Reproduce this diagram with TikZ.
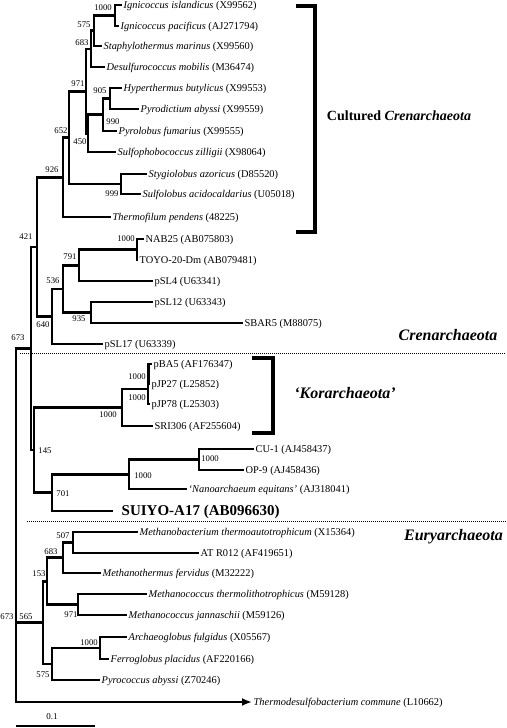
\documentclass[tikz,border=0pt]{standalone}
\usepackage{fontspec}
\setmainfont{Liberation Serif}
\usetikzlibrary{arrows.meta}
\begin{document}
\begin{tikzpicture}[x=1pt,y=-1pt,
  br/.style={line width=2.8pt},
  leaf/.style={anchor=west, inner xsep=1.5pt, inner ysep=0pt, font=\fontsize{10.4}{12}\selectfont, text height=7pt, text depth=0pt},
  bs/.style={inner sep=0pt, font=\fontsize{8.7}{10}\selectfont},
  grp/.style={inner sep=0pt, anchor=base, font=\fontsize{16}{18}\selectfont\bfseries\itshape},
  brk/.style={line width=3.8pt},
  sep/.style={line width=0.8pt, dash pattern=on 1pt off 1pt}]
\useasboundingbox (0,0) rectangle (506,728);
\fill[white] (0,0) rectangle (506,728);
% leaves
\node[leaf] (L1) at (122,5) {\textit{Ignicoccus islandicus} (X99562)};
\node[leaf] (L2) at (119,26) {\textit{Ignicoccus pacificus} (AJ271794)};
\node[leaf] (L3) at (102,46) {\textit{Staphylothermus marinus} (X99560)};
\node[leaf] (L4) at (105,67) {\textit{Desulfurococcus mobilis} (M36474)};
\node[leaf] (L5) at (122,88) {\textit{Hyperthermus butylicus} (X99553)};
\node[leaf] (L6) at (139,109) {\textit{Pyrodictium abyssi} (X99559)};
\node[leaf] (L7) at (117,131) {\textit{Pyrolobus fumarius} (X99555)};
\node[leaf] (L8) at (116,152) {\textit{Sulfophobococcus zilligii} (X98064)};
\node[leaf] (L9) at (147,174) {\textit{Stygiolobus azoricus} (D85520)};
\node[leaf] (L10) at (141,194) {\textit{Sulfolobus acidocaldarius} (U05018)};
\node[leaf] (L11) at (111,217) {\textit{Thermofilum pendens} (48225)};
\node[leaf] (L12) at (144,239) {NAB25 (AB075803)};
\node[leaf] (L13) at (138,260) {TOYO-20-Dm (AB079481)};
\node[leaf] (L14) at (153,281) {pSL4 (U63341)};
\node[leaf] (L15) at (153,302) {pSL12 (U63343)};
\node[leaf] (L16) at (243,323) {SBAR5 (M88075)};
\node[leaf] (L17) at (103,344) {pSL17 (U63339)};
\node[leaf] (L18) at (152,364) {pBA5 (AF176347)};
\node[leaf] (L19) at (150,384) {pJP27 (L25852)};
\node[leaf] (L20) at (150,404) {pJP78 (L25303)};
\node[leaf] (L21) at (153,426) {SRI306 (AF255604)};
\node[leaf] (L22) at (254,449) {CU-1 (AJ458437)};
\node[leaf] (L23) at (244,470) {OP-9 (AJ458436)};
\node[leaf] (L24) at (187,489) {{\itshape ‘Nanoarchaeum equitans’} (AJ318041)};
\node[leaf, inner xsep=8.5pt, font=\fontsize{15}{17}\selectfont\bfseries, text height=9pt] (L25) at (113,511) {SUIYO-A17 (AB096630)};
\node[leaf] (L26) at (138,532) {\textit{Methanobacterium thermoautotrophicum} (X15364)};
\node[leaf] (L27) at (199,553) {AT R012 (AF419651)};
\node[leaf] (L28) at (101,573) {\textit{Methanothermus fervidus} (M32222)};
\node[leaf] (L29) at (147,594) {\textit{Methanococcus thermolithotrophicus} (M59128)};
\node[leaf] (L30) at (127,615) {\textit{Methanococcus jannaschii} (M59126)};
\node[leaf] (L31) at (127,637) {\textit{Archaeoglobus fulgidus} (X05567)};
\node[leaf] (L32) at (109,659) {\textit{Ferroglobus placidus} (AF220166)};
\node[leaf] (L33) at (100,680) {\textit{Pyrococcus abyssi} (Z70246)};
\node[leaf] (L34) at (252,702) {\textit{Thermodesulfobacterium commune} (L10662)};
% internal nodes
\coordinate (n1) at (115,15.5);
\coordinate (n2) at (94,30.75);
\coordinate (n3) at (91,48.9);
\coordinate (n5) at (110,98.5);
\coordinate (n6) at (103,114.75);
\coordinate (n7) at (88,133.4);
\coordinate (n4) at (86,91.1);
\coordinate (n8) at (121,184);
\coordinate (n9) at (69,137.6);
\coordinate (n10) at (63,177.3);
\coordinate (n17) at (137,249.5);
\coordinate (n15) at (79,265.25);
\coordinate (n16) at (91,312.5);
\coordinate (n14) at (63,288.9);
\coordinate (n13) at (52,316.4);
\coordinate (n12) at (37,246.9);
\coordinate (n22) at (148.5,374);
\coordinate (n23) at (148,389);
\coordinate (n20) at (122,407.5);
\coordinate (n25) at (199,459.5);
\coordinate (n24) at (129,474.25);
\coordinate (n21) at (52,492.6);
\coordinate (n19) at (34,450);
\coordinate (n18) at (31,348.5);
\coordinate (n26) at (73,542.5);
\coordinate (n27) at (63,557.75);
\coordinate (n29) at (78,604.5);
\coordinate (n28) at (47,581.1);
\coordinate (n33) at (100,648);
\coordinate (n31) at (52,664);
\coordinate (n30) at (43,622.6);
\coordinate (nA) at (16,485.5);
% branches
\draw[br] (n1) |- (L1.west);  \draw[br] (n1) |- (L2.west);
\draw[br] (n2) |- (n1);       \draw[br] (n2) |- (L3.west);
\draw[br] (n3) |- (n2);       \draw[br] (n3) |- (L4.west);
\draw[br] (n5) |- (L5.west);  \draw[br] (n5) |- (L6.west);
\draw[br] (n6) |- (n5);       \draw[br] (n6) |- (L7.west);
\draw[br] (n7) |- (n6);       \draw[br] (n7) |- (L8.west);
\draw[br] (n4) |- (n3);       \draw[br] (n4) |- (n7);
\draw[br] (n8) |- (L9.west);  \draw[br] (n8) |- (L10.west);
\draw[br] (n9) |- (n4);       \draw[br] (n9) |- (n8);
\draw[br] (n10) |- (n9);      \draw[br] (n10) |- (L11.west);
\draw[br] (n17) |- (L12.west); \draw[br] (n17) |- (L13.west);
\draw[br] (n15) |- (n17);     \draw[br] (n15) |- (L14.west);
\draw[br] (n16) |- (L15.west); \draw[br] (n16) |- (L16.west);
\draw[br] (n14) |- (n15);     \draw[br] (n14) |- (n16);
\draw[br] (n13) |- (n14);     \draw[br] (n13) |- (L17.west);
\draw[br] (n12) |- (n10);     \draw[br] (n12) |- (n13);
\draw[br] (n22) |- (L18.west); \draw[br] (n22) |- (L19.west);
\draw[br] (n23) |- (n22);     \draw[br] (n23) |- (L20.west);
\draw[br] (n20) |- (n23);     \draw[br] (n20) |- (L21.west);
\draw[br] (n25) |- (L22.west); \draw[br] (n25) |- (L23.west);
\draw[br] (n24) |- (n25);     \draw[br] (n24) |- (L24.west);
\draw[br] (n21) |- (n24);     \draw[br] (n21) |- (L25.west);
\draw[br] (n19) |- (n20);     \draw[br] (n19) |- (n21);
\draw[br] (n18) |- (n12);     \draw[br] (n18) |- (n19);
\draw[br] (n26) |- (L26.west); \draw[br] (n26) |- (L27.west);
\draw[br] (n27) |- (n26);     \draw[br] (n27) |- (L28.west);
\draw[br] (n29) |- (L29.west); \draw[br] (n29) |- (L30.west);
\draw[br] (n28) |- (n27);     \draw[br] (n28) |- (n29);
\draw[br] (n33) |- (L31.west); \draw[br] (n33) |- (L32.west);
\draw[br] (n31) |- (n33);     \draw[br] (n31) |- (L33.west);
\draw[br] (n30) |- (n28);     \draw[br] (n30) |- (n31);
\draw[br] (nA) |- (n18);      \draw[br] (nA) |- (n30);
\draw[br, -{Latex[length=10pt,width=8pt]}] (nA) |- (L34.west);
% bootstrap values
\node[bs] (b1) at (103,8) {1000};
\node[bs] (b2) at (84,25) {575};
\node[bs] (b3) at (82,43) {683};
\node[bs] (b4) at (78,84) {971};
\node[bs] (b5) at (100,91) {905};
\node[bs] (b6) at (113,122) {990};
\node[bs] (b7) at (80,142) {450};
\node[bs] (b8) at (61,131) {652};
\node[bs] (b9) at (52,170) {926};
\node[bs] (b10) at (112,194) {999};
\node[bs] (b11) at (26,237) {421};
\node[bs] (b12) at (126,239) {1000};
\node[bs] (b13) at (70,257) {791};
\node[bs] (b14) at (53,281) {536};
\node[bs] (b15) at (79,319) {935};
\node[bs] (b16) at (43,325) {640};
\node[bs] (b17) at (18,338) {673};
\node[bs] (b18) at (137,377) {1000};
\node[bs] (b19) at (137,398) {1000};
\node[bs] (b20) at (108,415) {1000};
\node[bs] (b21) at (45,451) {145};
\node[bs] (b22) at (210,459) {1000};
\node[bs] (b23) at (143,476) {1000};
\node[bs] (b24) at (63,494) {701};
\node[bs] (b25) at (63,536) {507};
\node[bs] (b26) at (51,552) {683};
\node[bs] (b27) at (39,574) {153};
\node[bs] (b28) at (71,615) {971};
\node[bs] (b29) at (7,617) {673};
\node[bs] (b30) at (26,617) {565};
\node[bs] (b31) at (89,643) {1000};
\node[bs] (b32) at (43,675) {575};
% brackets and separators
\draw[brk] (296,6) -| (315,232) -- (296,232);
\draw[brk] (252,358) -| (273,433) -- (252,433);
\draw[sep] (20,353) -- (506,353);
\draw[sep] (27,521) -- (506,521);
% group labels
\node[grp, font=\fontsize{14}{16}\selectfont\bfseries] (g1) at (399,120) {Cultured \textit{Crenarchaeota}};
\node[grp] (g2) at (448,340) {Crenarchaeota};
\node[grp] (g3) at (345,398) {‘Korarchaeota’};
\node[grp] (g4) at (453.5,540.5) {Euryarchaeota};
% scale bar
\coordinate (sbL) at (16,726);
\coordinate (sbR) at (95,726);
\draw[line width=1.6pt] (sbL) -- (sbR);
\node[bs, font=\fontsize{9}{10}\selectfont] (sbt) at (52,717) {0.1};
\end{tikzpicture}
\end{document}
